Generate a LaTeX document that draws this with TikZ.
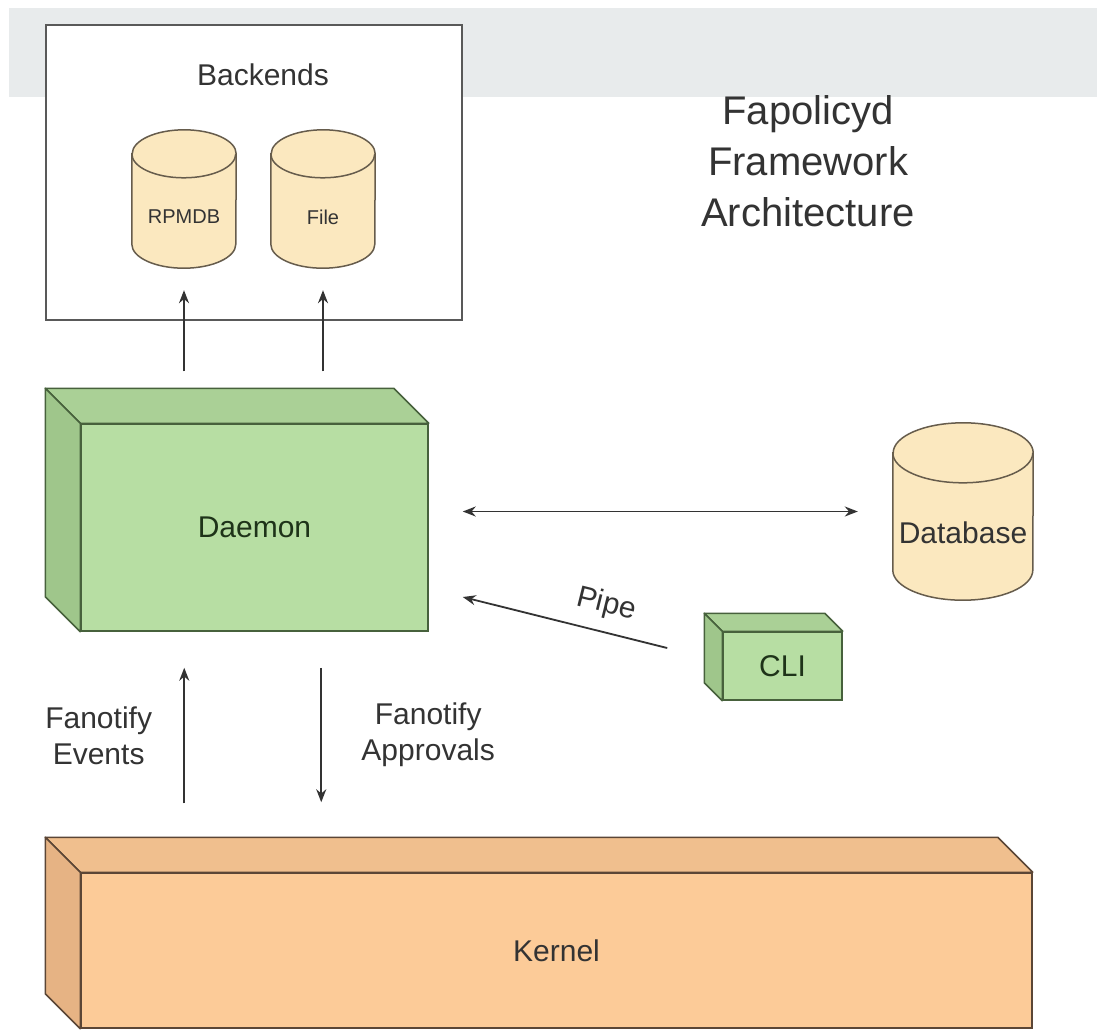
\documentclass[tikz,border=0pt]{standalone}
\usepackage{fontspec}
\setmainfont{Liberation Sans}
\usepackage{xcolor}
\usetikzlibrary{positioning,arrows.meta}

\definecolor{bandgray}{HTML}{E8EBEC}
\definecolor{txtgray}{HTML}{333333}
\definecolor{greenfront}{HTML}{B7DEA3}
\definecolor{greentop}{HTML}{AAD096}
\definecolor{greenside}{HTML}{9FC68B}
\definecolor{greenline}{HTML}{47613C}
\definecolor{greentxt}{HTML}{1E3319}
\definecolor{kernfront}{HTML}{FCCB98}
\definecolor{kerntop}{HTML}{F0BF8E}
\definecolor{kernside}{HTML}{E6B384}
\definecolor{kernline}{HTML}{5B4636}
\definecolor{cylfill}{HTML}{FBE8BF}
\definecolor{cylline}{HTML}{665C4C}

% top and left faces behind a front-face node
\newcommand{\cubeback}[5]{%
  \filldraw[fill=#3, draw=#5, line width=1.5, line join=round]
    (#1.north west) -- ++(-#2,-#2) -- ([shift={(-#2,-#2)}]#1.north east) -- (#1.north east) -- cycle;
  \filldraw[fill=#4, draw=#5, line width=1.5, line join=round]
    (#1.north west) -- ++(-#2,-#2) -- ([shift={(-#2,-#2)}]#1.south west) -- (#1.south west) -- cycle;
}
% cylinder outline inside a node's box: node, x radius, y radius
\newcommand{\drum}[3]{%
  \filldraw[fill=cylfill, draw=cylline, line width=1.5]
    ([yshift=-#3]#1.north west) -- ([yshift=#3]#1.south west)
    arc[start angle=180, end angle=0, x radius=#2, y radius=#3]
    -- ([yshift=-#3]#1.north east)
    arc[start angle=0, end angle=-180, x radius=#2, y radius=#3] -- cycle;
  \draw[cylline, line width=1.5] ([yshift=-#3]#1.north west)
    arc[start angle=180, end angle=0, x radius=#2, y radius=#3];
}

\begin{document}
\begin{tikzpicture}[x=1pt, y=-1pt,
  >={Stealth[length=13pt,width=10pt]},
  lbl/.style={font=\fontsize{30}{36}\selectfont, text=txtgray, align=center},
  backbox/.style={rectangle, draw=black!65, fill=white, line width=2, inner sep=0},
  drumbox/.style={rectangle, inner sep=0},
  cyltxt/.style={text=txtgray, font=\fontsize{20}{24}\selectfont},
  greenbox/.style={rectangle, draw=greenline, fill=greenfront, line width=1.5, inner sep=0,
                   text=greentxt, font=\fontsize{30}{36}\selectfont},
  kernbox/.style={rectangle, draw=kernline, fill=kernfront, line width=1.5, inner sep=0,
                  text=black!80, font=\fontsize{30}{36}\selectfont},
  e/.style={->, line width=1.8, draw=black!80},
]
\useasboundingbox (0,0) rectangle (1097,1031);
\fill[white] (0,0) rectangle (1097,1031);
\fill[bandgray] (9,8) rectangle (1097,97);

\node[backbox, minimum width=416, minimum height=295] (backends) at (254,172.5) {};
\node[lbl] (backlbl) at (263,75) {Backends};
\node[drumbox, minimum width=104, minimum height=138] (rpmdb) at (184,199) {};
\drum{rpmdb}{52}{24}
\node[cyltxt] (rpmdbtxt) at ([yshift=-18]rpmdb.center) {RPMDB};
\node[drumbox, minimum width=104, minimum height=138] (file) at (323,199) {};
\drum{file}{52}{24}
\node[cyltxt] (filetxt) at ([yshift=-18]file.center) {File};

\node[lbl, font=\fontsize{40}{51}\selectfont] (title) at (808,161) {Fapolicyd\\Framework\\Architecture};

\node[greenbox, minimum width=347, minimum height=207] (daemon) at (254.5,527.5) {Daemon};
\cubeback{daemon}{35}{greentop}{greenside}{greenline}
\node[greenbox, minimum width=119, minimum height=68] (cli) at (782.5,666) {CLI};
\cubeback{cli}{18}{greentop}{greenside}{greenline}
\node[drumbox, minimum width=140, minimum height=177] (database) at (963,511.5) {};
\drum{database}{70}{30}
\node[lbl] (dbtxt) at ([yshift=-21]database.center) {Database};

\node[kernbox, minimum width=951, minimum height=155] (kernel) at (556.5,950.5) {Kernel};
\cubeback{kernel}{35}{kerntop}{kernside}{kernline}

\draw[e] ([yshift=52]rpmdb.south |- daemon.north) -- ([yshift=-22]rpmdb.south);
\draw[e] ([yshift=52]file.south |- daemon.north) -- ([yshift=-22]file.south);
\draw[e, <->] ([xshift=34]daemon.east |- database.west) -- ([xshift=-35]database.west);
\draw[e] ([xshift=-55,yshift=18]cli.west) -- ([xshift=34,yshift=-69.5]daemon.east)
  node[lbl, pos=0.33, above=-9, sloped]{Pipe};
\draw[e] ([xshift=104,yshift=69]kernel.north west) -- ([xshift=104,yshift=-36]daemon.south west)
  node[lbl, midway, left=28]{Fanotify\\Events};
\draw[e] ([xshift=241,yshift=-36]daemon.south west) -- ([xshift=241,yshift=70]kernel.north west)
  node[lbl, midway, right=36]{Fanotify\\Approvals};
\end{tikzpicture}
\end{document}
